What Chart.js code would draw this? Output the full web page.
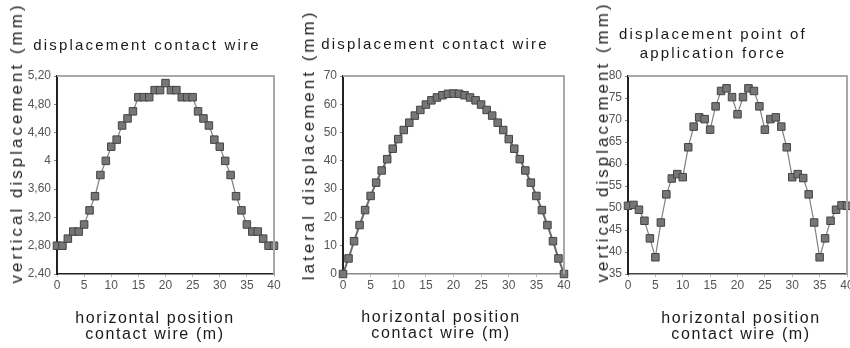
<!DOCTYPE html>
<html lang="en">
<head>
  <meta charset="UTF-8">
  <title>Contact wire displacement</title>
  <script src="https://cdn.jsdelivr.net/npm/chart.js"></script>
  <style>
    body {
      margin: 0;
      width: 850px;
      height: 348px;
      overflow: hidden;
      background: #fff;
      font-family: 'Liberation Sans', Arial, sans-serif;
      position: relative;
    }
    canvas { position: absolute; top: 0; }
    .lbl {
      position: absolute;
      transform: translate(-50%, -50%);
      white-space: nowrap;
      color: #1a1a1a;
      text-align: center;
    }
    .title { font-size: 15px; letter-spacing: 2.2px; line-height: 19px; }
    .xt { font-size: 16px; letter-spacing: 1.6px; line-height: 16px; }
    .yt { font-size: 17px; letter-spacing: 3px; color: #222; transform: translate(-50%, -50%) rotate(-90deg); }
  </style>
</head>
<body>
  <canvas id="c1" width="290" height="348" style="left:0px"></canvas>
  <canvas id="c2" width="290" height="348" style="left:286px"></canvas>
  <canvas id="c3" width="300" height="348" style="left:571px"></canvas>

  <div class="lbl title" style="left:147px; top:44px">displacement contact wire</div>
  <div class="lbl yt" style="left:17px; top:143px">vertical displacement (mm)</div>
  <div class="lbl xt" style="left:155px; top:326px">horizontal position<br>contact wire (m)</div>

  <div class="lbl title" style="left:435px; top:43px">displacement contact wire</div>
  <div class="lbl yt" style="left:309px; top:145px">lateral displacement (mm)</div>
  <div class="lbl xt" style="left:441px; top:325px">horizontal position<br>contact wire (m)</div>

  <div class="lbl title" style="left:713px; top:43px">displacement point of<br>application force</div>
  <div class="lbl yt" style="left:603px; top:142px">vertical displacement (mm)</div>
  <div class="lbl xt" style="left:741px; top:326px">horizontal position<br>contact wire (m)</div>

<script>
// posizioni lungo il filo (m)
const positions = [0,1,2,3,4,5,6,7,8,9,10,11,12,13,14,15,16,17,18,19,20,
  21,22,23,24,25,26,27,28,29,30,31,32,33,34,35,36,37,38,39,40];

// spostamento verticale filo di contatto (mm)
const verticalWire = [2.8,2.8,2.9,3.0,3.0,3.1,3.3,3.5,3.8,4.0,4.2,4.3,4.5,4.6,4.7,4.9,4.9,4.9,5.0,5.0,5.1,
  5.0,5.0,4.9,4.9,4.9,4.7,4.6,4.5,4.3,4.2,4.0,3.8,3.5,3.3,3.1,3.0,3.0,2.9,2.8,2.8];

// spostamento laterale filo di contatto (mm)
const lateralWire = [0,5.5,11.6,17.3,22.6,27.6,32.3,36.6,40.6,44.3,47.7,50.9,53.5,56.0,58.0,59.9,61.4,62.4,63.2,63.7,63.8,
  63.7,63.2,62.4,61.4,59.9,58.0,56.0,53.5,50.9,47.7,44.3,40.6,36.6,32.3,27.6,22.6,17.3,11.6,5.5,0];

// spostamento verticale punto di applicazione forza (mm)
const verticalForce = [50.5,50.7,49.6,47.1,43.1,38.8,46.7,53.1,56.7,57.7,57.0,63.8,68.5,70.6,70.2,67.8,73.1,76.6,77.2,75.2,71.3,
  75.2,77.2,76.6,73.1,67.8,70.2,70.6,68.5,63.8,57.0,57.7,56.8,53.1,46.7,38.8,43.1,47.1,49.6,50.6,50.5];

const yTicks1 = { min: 2.4, max: 5.2, step: 0.4 };
const yTicks2 = { min: 0, max: 70, step: 10 };
const yTicks3 = { min: 35, max: 80, step: 5 };

// cornice grigia sopra e a destra
const frame = {
  id: 'frame',
  afterDraw(chart) {
    const { ctx, chartArea: a } = chart;
    ctx.save();
    ctx.strokeStyle = '#a8a8a8';
    ctx.lineWidth = 2;
    ctx.beginPath();
    ctx.moveTo(a.left, a.top);
    ctx.lineTo(a.right, a.top);
    ctx.lineTo(a.right, a.bottom);
    ctx.stroke();
    ctx.restore();
  }
};

function fmt(v, comma) {
  if (Math.abs(v - Math.round(v)) < 1e-9) return String(Math.round(v));
  return comma ? v.toFixed(2).replace('.', ',') : String(v);
}

function crea(id, values, yt, opts) {
  new Chart(document.getElementById(id), {
    type: 'line',
    data: {
      datasets: [{
        data: positions.map((x, i) => ({ x: x, y: values[i] })),
        borderColor: opts.line,
        borderWidth: opts.lineWidth,
        pointStyle: 'rect',
        pointRadius: 5.3,
        pointBackgroundColor: '#767676',
        pointBorderColor: '#444',
        pointBorderWidth: 1,
        tension: 0,
        clip: false
      }]
    },
    options: {
      responsive: false,
      animation: false,
      layout: { padding: { left: 0, top: 76, right: opts.right, bottom: 54 } },
      plugins: { legend: { display: false }, tooltip: { enabled: false } },
      scales: {
        x: {
          type: 'linear',
          min: 0, max: 40,
          afterFit: s => { s.height = 20; },
          ticks: { stepSize: 5, padding: 1, color: '#555', font: { family: 'Liberation Sans', size: 12 }, maxRotation: 0 },
          grid: { drawOnChartArea: false, tickLength: 3, tickColor: '#bbb' },
          border: { color: opts.xAxis, width: 1.5 }
        },
        y: {
          min: yt.min, max: yt.max,
          afterFit: s => { s.width = 57; },
          ticks: {
            stepSize: yt.step, padding: 3, color: '#555',
            font: { family: 'Liberation Sans', size: 12 },
            callback: v => fmt(v, opts.comma)
          },
          grid: { drawOnChartArea: false, tickLength: 3, tickColor: '#888' },
          border: { color: '#222', width: 2 }
        }
      }
    },
    plugins: [frame]
  });
}

crea('c1', verticalWire, yTicks1, { right: 16, line: '#808080', lineWidth: 1.2, xAxis: '#222', comma: true });
crea('c2', lateralWire, yTicks2, { right: 12, line: '#6a6a6a', lineWidth: 2, xAxis: '#888', comma: false });
crea('c3', verticalForce, yTicks3, { right: 24, line: '#808080', lineWidth: 1.2, xAxis: '#444', comma: false });
</script>
</body>
</html>
